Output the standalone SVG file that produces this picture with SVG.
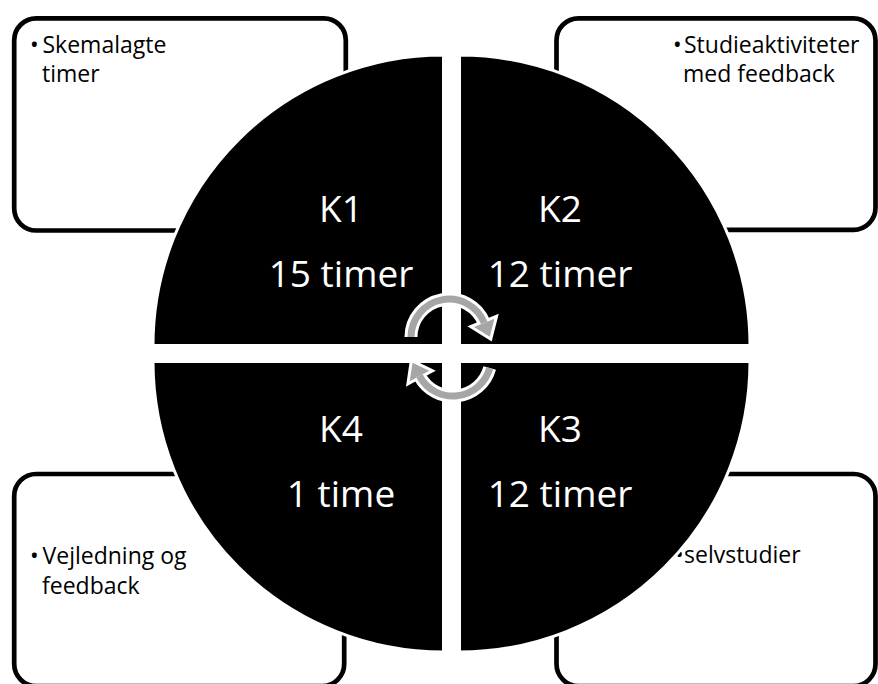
<svg xmlns="http://www.w3.org/2000/svg" width="878" height="684" viewBox="0 0 878 684">
  <style>
    .box { fill: #ffffff; stroke: #000000; stroke-width: 4.7; }
    .quad { fill: #000000; stroke: #ffffff; stroke-width: 3; }
    .big { font-family: "Open Sans", "Noto Sans", sans-serif; font-size: 37px; fill: #ffffff; text-anchor: middle; }
    .small { font-family: "Open Sans", "Noto Sans", sans-serif; font-size: 23px; fill: #000000; }
    .arcW { fill: none; stroke: #ffffff; stroke-width: 13; }
    .arcG { fill: none; stroke: #a6a6a6; stroke-width: 7; }
    .headW { fill: #ffffff; stroke: #ffffff; stroke-width: 6; stroke-linejoin: miter; }
    .headG { fill: #a6a6a6; stroke: none; }
  </style>
  <rect width="878" height="684" fill="#ffffff"/>

  <g id="box-tl">
    <rect class="box" x="14.2" y="18.3" width="331.6" height="212.2" rx="22"/>
    <text class="small"><tspan x="30" y="53">•</tspan><tspan x="42.5" y="53">Skemalagte</tspan><tspan x="42" y="82">timer</tspan></text>
  </g>
  <g id="box-tr">
    <rect class="box" x="556.5" y="18.3" width="319" height="211.5" rx="22"/>
    <text class="small"><tspan x="673" y="53">•</tspan><tspan x="684" y="53">Studieaktiviteter</tspan><tspan x="683" y="82">med feedback</tspan></text>
  </g>
  <g id="box-bl">
    <rect class="box" x="14.2" y="474" width="330" height="212" rx="22"/>
    <text class="small"><tspan x="30" y="564">•</tspan><tspan x="42.5" y="564">Vejledning og</tspan><tspan x="42" y="594">feedback</tspan></text>
  </g>
  <g id="box-br">
    <rect class="box" x="556.5" y="474" width="319" height="212" rx="22"/>
    <text class="small"><tspan x="675" y="563">•</tspan><tspan x="684" y="563">selvstudier</tspan></text>
  </g>

  <g id="k1">
    <path class="quad" d="M443.5,345.5 L153,345.5 A290.5,290.5 0 0 1 443.5,55 Z"/>
    <text class="big" x="341" y="222">K1</text>
    <text class="big" x="341" y="287">15 timer</text>
  </g>
  <g id="k2">
    <path class="quad" d="M459.5,345.5 L459.5,55 A290.5,290.5 0 0 1 750,345.5 Z"/>
    <text class="big" x="560" y="222">K2</text>
    <text class="big" x="560" y="287">12 timer</text>
  </g>
  <g id="k3">
    <path class="quad" d="M459.5,361.5 L750,361.5 A290.5,290.5 0 0 1 459.5,652 Z"/>
    <text class="big" x="560" y="442">K3</text>
    <text class="big" x="560" y="507">12 timer</text>
  </g>
  <g id="k4">
    <path class="quad" d="M443.5,361.5 L443.5,652 A290.5,290.5 0 0 1 153,361.5 Z"/>
    <text class="big" x="341" y="442">K4</text>
    <text class="big" x="341" y="507">1 time</text>
  </g>

  <g id="connectors">
    <path class="arcW" d="M411,337 A38,38 0 0 1 484.2,322.8"/>
    <polygon class="headW" points="494.4,318.7 474,326.9 489.8,336.7"/>
    <path class="arcW" d="M489.7,368 A38,38 0 0 1 419.5,376"/>
    <polygon class="headW" points="409.8,381.2 429.2,370.8 412.5,362.8"/>
    <path class="arcG" d="M411,337 A38,38 0 0 1 484.2,322.8"/>
    <polygon class="headG" points="494.4,318.7 474,326.9 489.8,336.7"/>
    <path class="arcG" d="M489.7,368 A38,38 0 0 1 419.5,376"/>
    <polygon class="headG" points="409.8,381.2 429.2,370.8 412.5,362.8"/>
  </g>
</svg>
